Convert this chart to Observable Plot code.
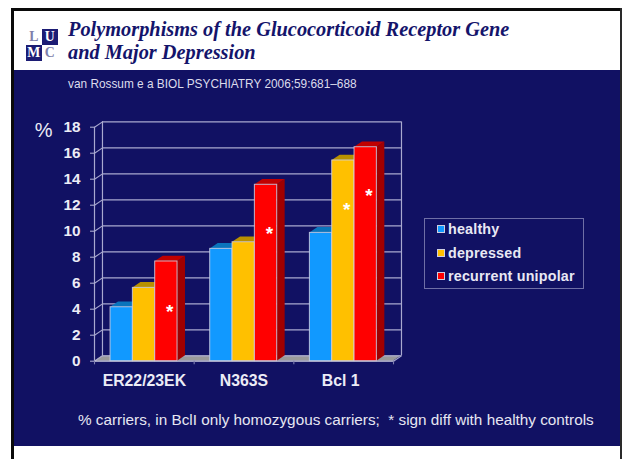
<!DOCTYPE html>
<html><head><meta charset="utf-8">
<script src="https://cdn.jsdelivr.net/npm/d3@7"></script>
<script src="https://cdn.jsdelivr.net/npm/@observablehq/plot@0.6"></script>
<style>
html,body{margin:0;padding:0;background:#fff;}
#page{position:relative;width:622px;height:459px;overflow:hidden;background:#fff;font-family:"Liberation Sans",Arial,sans-serif;}
#page>div{position:absolute;}
#frameTop{left:11px;top:8px;width:610px;height:2.5px;background:#0a0a0a;}
#frameLeft{left:11px;top:8px;width:3px;height:451px;background:#0a0a0a;}
#frameRight{left:620px;top:8px;width:2px;height:451px;background:#2a2a2a;}
#panel{left:14px;top:70px;width:606px;height:376px;background:#111163;}
#plot{left:0;top:0;}
.title{left:68px;font:italic bold 20.35px "Liberation Serif",serif;color:#14146b;white-space:nowrap;line-height:24px;}
#source{left:68px;top:77px;font-size:11.85px;line-height:14px;color:#dcdcec;white-space:nowrap;}
#note{left:78px;top:411px;font-size:15.3px;line-height:18px;color:#e6e6f2;white-space:nowrap;}
#legend{left:424px;top:218px;width:158px;height:69px;border:1px solid #6f6fa6;}
.lg{position:absolute;left:12px;display:flex;align-items:center;font-weight:bold;font-size:14.3px;letter-spacing:.2px;color:#e8e8f4;white-space:nowrap;line-height:16px;}
.sw{width:6px;height:6px;border:1px solid #cfcfe0;margin-right:3px;display:block;}
.logo{width:15.5px;height:15.5px;font:bold 13.8px "Liberation Serif",serif;text-align:center;line-height:16px;}
</style></head><body>
<div id="page">
  <div id="panel"></div>
  <div id="frameTop"></div><div id="frameLeft"></div><div id="frameRight"></div>
  <div class="logo" style="left:26px;top:29px;color:#8080aa;">L</div>
  <div class="logo" style="left:42px;top:29px;background:#1c1c74;color:#fff;">U</div>
  <div class="logo" style="left:26px;top:45px;background:#1c1c74;color:#fff;">M</div>
  <div class="logo" style="left:42px;top:45px;color:#8080aa;">C</div>
  <div class="title" style="top:17px;">Polymorphisms of the Glucocorticoid Receptor Gene</div>
  <div class="title" style="top:40px;">and Major Depression</div>
  <div id="source">van Rossum e a BIOL PSYCHIATRY 2006;59:681–688</div>
  <div id="plot"></div>
  <div id="legend"></div>
  <div id="note">% carriers, in BclI only homozygous carriers;&nbsp; * sign diff with healthy controls</div>
</div>
<script>
const categories = ["ER22/23EK", "N363S", "Bcl 1"];
const seriesNames = ["healthy", "depressed", "recurrent unipolar"];
const healthy = [4.15, 8.64, 9.87];
const depressed = [5.64, 9.15, 15.44];
const recurrent = [7.67, 13.57, 16.46];
const yTicks = [0, 2, 4, 6, 8, 10, 12, 14, 16, 18];
const stars = [
  {cat: 0, series: 2, y: 4.05},
  {cat: 1, series: 2, y: 10.05},
  {cat: 2, series: 1, y: 11.9},
  {cat: 2, series: 2, y: 12.95}
];
const labelPos = [0.5, 1.5, 2.47];
const front = ["#1199ff", "#ffc000", "#ff0000"];
const topFace = ["#0a74bc", "#b89000", "#c00000"];
const sideFace = ["#0a5c98", "#9a7800", "#a00000"];
const edge = "#d0d0e2";
const grid = "#a9a9cf";

const values = [healthy, depressed, recurrent];
// 3D depth expressed in data units of each scale
const dx = 0.08, dy = 0.41;
const barW = 0.224, groupStart = 0.161;

const bars = [];
categories.forEach((c, i) => seriesNames.forEach((s, j) => {
  const x1 = i + groupStart + j * barW;
  bars.push({c, s, j, x1, x2: x1 + barW, v: values[j][i]});
}));
const sides = bars.flatMap((b, k) => [
  {k, j: b.j, x: b.x2, y1: 0, y2: b.v},
  {k, j: b.j, x: b.x2 + dx, y1: dy, y2: b.v + dy}
]);
const tops = bars.flatMap((b, k) => [
  {k, j: b.j, x: b.x1, y1: b.v, y2: b.v},
  {k, j: b.j, x: b.x1 + dx, y1: b.v, y2: b.v + dy},
  {k, j: b.j, x: b.x2, y1: b.v, y2: b.v + dy},
  {k, j: b.j, x: b.x2 + dx, y1: b.v + dy, y2: b.v + dy}
]);
const floor = [
  {x: 0, y1: 0, y2: 0},
  {x: dx, y1: 0, y2: dy},
  {x: 3, y1: 0, y2: dy},
  {x: 3 + dx, y1: dy, y2: dy}
];
const wallDiag = yTicks.flatMap(t => [{t, x: 0, y: t}, {t, x: dx, y: t + dy}]);
const floorFront = [{x: 0, y: 0}, {x: 3, y: 0}];
const floorRight = [{x: 3, y: 0}, {x: 3 + dx, y: dy}];

const chart = Plot.plot({
  width: 622, height: 459,
  marginTop: 0, marginBottom: 0, marginLeft: 0, marginRight: 0,
  style: {background: "transparent", fontFamily: "'Liberation Sans', Arial, sans-serif", overflow: "visible"},
  x: {type: "linear", domain: [-94 / 99.67, (622 - 94) / 99.67], range: [0, 622], axis: null},
  y: {type: "linear", domain: [(360.7 - 459) / 13, 360.7 / 13], range: [459, 0], axis: null},
  marks: [
    // floor
    Plot.areaY(floor, {x: "x", y1: "y1", y2: "y2", fill: "#9a9a9a", curve: "linear"}),
    // back wall gridlines
    Plot.ruleY(yTicks, {x1: dx, x2: 3 + dx, y: d => d + dy, stroke: grid, strokeWidth: 1.2}),
    Plot.line(wallDiag, {x: "x", y: "y", z: "t", stroke: grid, strokeWidth: 1.1}),
    Plot.ruleX([dx, 3 + dx], {y1: dy, y2: 18 + dy, stroke: grid, strokeWidth: 1.2}),
    Plot.ruleX([0], {y1: 0, y2: 18, stroke: grid, strokeWidth: 1.2}),
    Plot.line(floorFront, {x: "x", y: "y", stroke: edge, strokeWidth: 1.2}),
    Plot.line(floorRight, {x: "x", y: "y", stroke: grid, strokeWidth: 1.1}),
    // y tick marks and x tick marks
    Plot.ruleX([0, 1, 2, 3], {y1: 0, y2: -0.28, stroke: "#7f7fb0", strokeWidth: 1.1}),
    Plot.ruleY(yTicks, {x1: -0.04, x2: 0, y: d => d, stroke: grid, strokeWidth: 1.1}),
    // bars, drawn left to right so each overlaps the previous one's depth
    ...[0, 1, 2].flatMap(j => [
      Plot.areaY(sides.filter(d => d.j === j), {x: "x", y1: "y1", y2: "y2", z: "k", fill: sideFace[j], curve: "linear"}),
      Plot.areaY(tops.filter(d => d.j === j), {x: "x", y1: "y1", y2: "y2", z: "k", fill: topFace[j], curve: "linear"}),
      Plot.rect(bars.filter(d => d.j === j), {x1: "x1", x2: "x2", y1: 0, y2: "v", fill: front[j], stroke: edge, strokeWidth: 1, strokeOpacity: 0.85})
    ]),
    // axis labels
    Plot.text(yTicks, {x: -0.14, y: d => d, text: d => String(d), textAnchor: "end", fontSize: 15.3, fontWeight: "bold", fill: "#ececf6"}),
    Plot.text(categories, {x: (d, i) => labelPos[i], y: -1.5, text: d => d, fontSize: 15.8, fontWeight: "bold", fill: "#ececf6"}),
    Plot.text(["%"], {x: -0.51, y: 18 - 0.25, text: d => d, textAnchor: "middle", fontSize: 20, fill: "#ececf6"}),
    // significance stars
    Plot.text(stars, {x: d => d.cat + groupStart + (d.series + 0.5) * barW, y: "y", text: () => "*", fontSize: 19, fontWeight: "bold", fill: "#ffffff", dx: 3.3, dy: 3})
  ]
});
document.getElementById("plot").appendChild(chart);

const legend = document.getElementById("legend");
const legendTop = [2, 25.5, 49];
seriesNames.forEach((s, i) => {
  const row = document.createElement("div");
  row.className = "lg";
  row.style.top = legendTop[i] + "px";
  const sw = document.createElement("span");
  sw.className = "sw";
  sw.style.background = front[i];
  row.appendChild(sw);
  row.appendChild(document.createTextNode(s));
  legend.appendChild(row);
});
</script>
</body></html>
